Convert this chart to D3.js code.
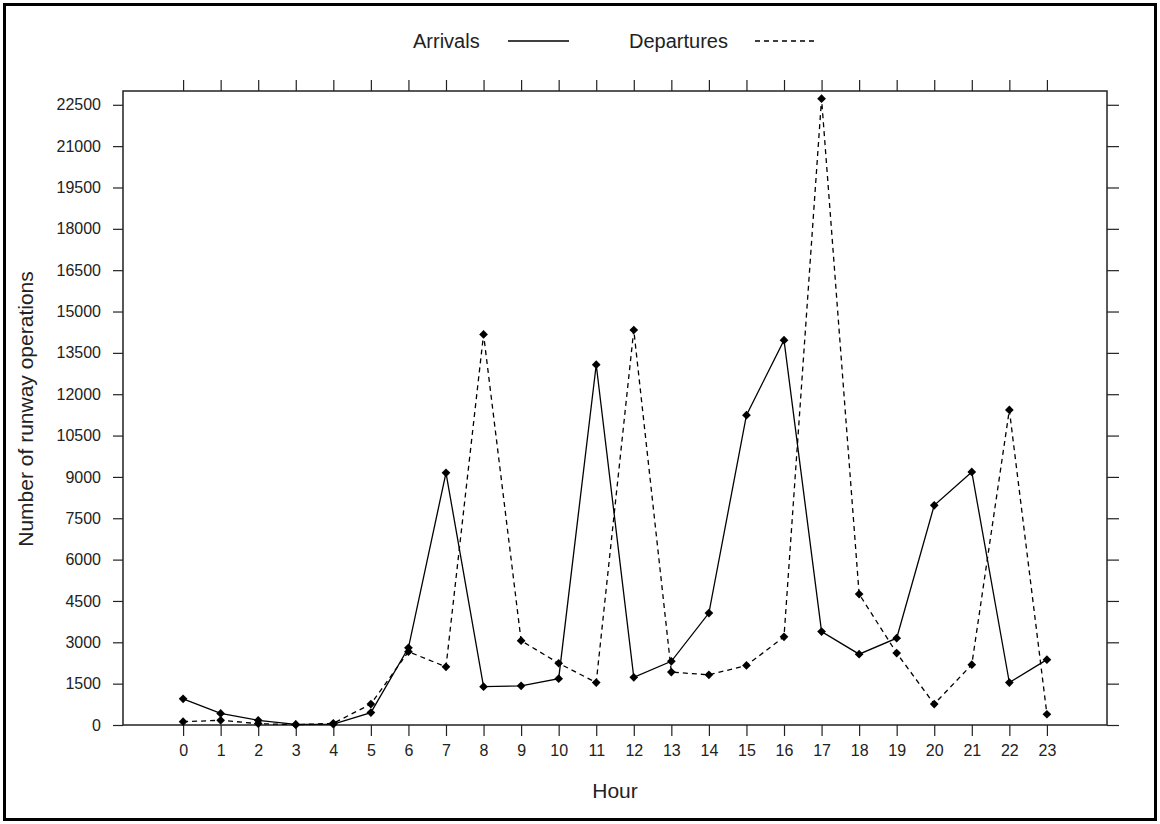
<!DOCTYPE html>
<html>
<head>
<meta charset="utf-8">
<script src="https://cdnjs.cloudflare.com/ajax/libs/d3/7.8.5/d3.min.js"></script>
<style>
  body { margin: 0; background: #fff; }
  text { font-family: "Liberation Sans", Arial, sans-serif; fill: #222; }
</style>
</head>
<body>
<div id="chart"></div>
<script>
// hourly runway operations
var hours = [0, 1, 2, 3, 4, 5, 6, 7, 8, 9, 10, 11, 12, 13, 14, 15, 16, 17, 18, 19, 20, 21, 22, 23];
var arrivals = [950, 420, 170, 20, 30, 450, 2800, 9150, 1390, 1420, 1680, 13070,
                1730, 2310, 4060, 11240, 13960, 3390, 2570, 3150, 7970, 9180, 1540, 2370];
var departures = [120, 170, 50, 10, 60, 760, 2660, 2110, 14170, 3060, 2240, 1540,
                  14330, 1920, 1820, 2160, 3200, 22720, 4750, 2610, 760, 2190, 11430, 390];
var yTicks = d3.range(0, 22501, 1500);
var seriesNames = ["Arrivals", "Departures"];

var W = 1160, H = 824;
var margin = {top: 91, right: 53, bottom: 99, left: 123},
    width = W - margin.left - margin.right,
    height = H - margin.top - margin.bottom;

var svg = d3.select("#chart")
  .append("svg")
    .attr("width", W)
    .attr("height", H);

// outer border
svg.append("rect")
  .attr("x", 4.5).attr("y", 4.5)
  .attr("width", W - 9).attr("height", H - 9)
  .attr("fill", "none")
  .attr("stroke", "#000")
  .attr("stroke-width", 3);

var g = svg.append("g")
  .attr("transform", "translate(" + margin.left + "," + margin.top + ")");

var x = d3.scaleLinear()
  .domain([-1.6, 24.6])
  .range([0, width]);

var y = d3.scaleLinear()
  .domain([0, 23000])
  .range([height, 0]);

function styleAxis(sel) {
  sel.select(".domain").remove();
  sel.selectAll(".tick line").attr("stroke", "#222").attr("stroke-width", 1.2);
  sel.selectAll(".tick text")
    .attr("font-size", "16px")
    .attr("font-family", "Liberation Sans, Arial, sans-serif")
    .attr("fill", "#333");
}

// bottom axis
g.append("g")
  .attr("transform", "translate(0," + height + ")")
  .call(d3.axisBottom(x).tickValues(hours).tickFormat(d3.format("d")).tickSize(11).tickPadding(9))
  .call(styleAxis);

// top axis, ticks only
g.append("g")
  .call(d3.axisTop(x).tickValues(hours).tickFormat("").tickSize(11))
  .call(styleAxis);

// left axis
g.append("g")
  .call(d3.axisLeft(y).tickValues(yTicks).tickFormat(d3.format("d")).tickSize(10).tickPadding(12))
  .call(styleAxis);

// right axis, ticks only
g.append("g")
  .attr("transform", "translate(" + width + ",0)")
  .call(d3.axisRight(y).tickValues(yTicks).tickFormat("").tickSize(12))
  .call(styleAxis);

// plot frame
g.append("rect")
  .attr("width", width)
  .attr("height", height)
  .attr("fill", "none")
  .attr("stroke", "#222")
  .attr("stroke-width", 1.5);

var line = d3.line()
  .x(function(d, i) { return x(hours[i]); })
  .y(function(d) { return y(d); });

var series = [
  {name: seriesNames[0], values: arrivals, dash: null},
  {name: seriesNames[1], values: departures, dash: "5,4"}
];

var marker = d3.symbol().type(d3.symbolSquare).size(38);

series.forEach(function(s) {
  g.append("path")
    .datum(s.values)
    .attr("fill", "none")
    .attr("stroke", "#000")
    .attr("stroke-width", 1.3)
    .attr("stroke-dasharray", s.dash)
    .attr("d", line);

  g.selectAll(null)
    .data(s.values)
    .enter().append("path")
      .attr("d", marker)
      .attr("fill", "#000")
      .attr("transform", function(d, i) {
        return "translate(" + x(hours[i]) + "," + y(d) + ") rotate(45)";
      });
});

// axis titles
svg.append("text")
  .attr("x", margin.left + width / 2)
  .attr("y", 798)
  .attr("text-anchor", "middle")
  .attr("font-size", "21px")
  .text("Hour");

svg.append("text")
  .attr("transform", "translate(33," + (margin.top + height / 2 + 1) + ") rotate(-90)")
  .attr("text-anchor", "middle")
  .attr("font-size", "21px")
  .text("Number of runway operations");

// legend
var legend = svg.append("g").attr("class", "legend");
var legendPos = [
  {text: 413, x1: 508, x2: 569},
  {text: 629, x1: 755, x2: 818}
];
series.forEach(function(s, i) {
  var p = legendPos[i];
  legend.append("text")
    .attr("x", p.text)
    .attr("y", 48)
    .attr("font-size", "20px")
    .text(s.name);
  legend.append("line")
    .attr("x1", p.x1).attr("x2", p.x2)
    .attr("y1", 41).attr("y2", 41)
    .attr("stroke", "#000")
    .attr("stroke-width", 1.3)
    .attr("stroke-dasharray", s.dash);
});
</script>
</body>
</html>
